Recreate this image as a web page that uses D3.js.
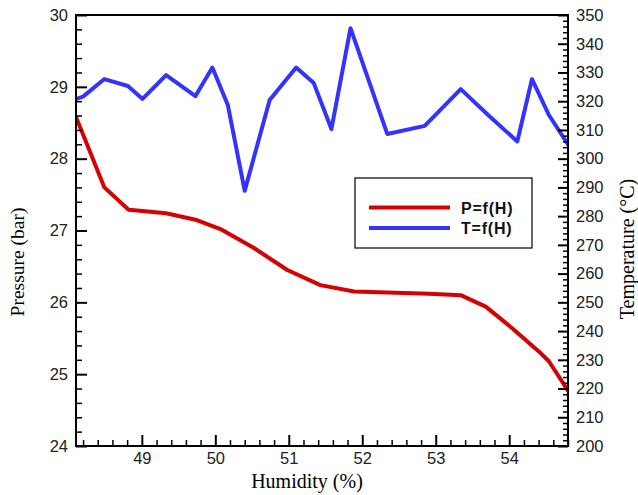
<!DOCTYPE html>
<html>
<head>
<meta charset="utf-8">
<script src="https://cdn.jsdelivr.net/npm/d3@7"></script>
<style>
  body { margin: 0; background: #fff; }
  svg { display: block; }
</style>
</head>
<body>
<svg id="chart" width="638" height="495"></svg>
<script>
// datos
const humP = [48.10, 48.49, 48.82, 49.01, 49.33, 49.73, 50.07, 50.52, 50.98, 51.43, 51.89, 52.91, 53.34, 53.68, 54.04, 54.43, 54.54, 54.82];
const pressure = [28.59, 27.60, 27.29, 27.27, 27.24, 27.15, 27.02, 26.76, 26.45, 26.24, 26.15, 26.12, 26.10, 25.94, 25.64, 25.29, 25.18, 24.74];

const humT = [48.10, 48.20, 48.49, 48.81, 49.01, 49.33, 49.73, 49.96, 50.17, 50.40, 50.74, 51.10, 51.34, 51.58, 51.84, 52.34, 52.85, 53.34, 53.72, 54.11, 54.31, 54.54, 54.82];
const temperature = [320.7, 321.6, 327.7, 325.3, 320.8, 329.1, 321.8, 331.7, 318.7, 288.8, 320.4, 331.7, 326.3, 310.3, 345.4, 308.6, 311.4, 324.2, 315.0, 306.0, 327.7, 315.2, 304.2];

const xTicks = [49, 50, 51, 52, 53, 54];
const pTicks = [24, 25, 26, 27, 28, 29, 30];
const tTicks = [200, 210, 220, 230, 240, 250, 260, 270, 280, 290, 300, 310, 320, 330, 340, 350];
const legendLabels = ["P=f(H)", "T=f(H)"];
const colors = ["#d60000", "#3333ff"];

document.addEventListener("DOMContentLoaded", () => {
    const svg = d3.select("#chart");
    const left = 76, right = 568, top = 15, bottom = 446;

    const x = d3.scaleLinear().domain([48.104, 54.8]).range([left, right]);
    const yP = d3.scaleLinear().domain([24, 30]).range([bottom, top]);
    const yT = d3.scaleLinear().domain([200, 350]).range([bottom, top]);

    const tickFont = "Liberation Sans, Arial, sans-serif";
    const titleFont = "Liberation Serif, Times New Roman, serif";

    // lineas de datos
    const lineP = d3.line().x((d, i) => x(humP[i])).y(d => yP(d));
    const lineT = d3.line().x((d, i) => x(humT[i])).y(d => yT(d));

    svg.append("clipPath").attr("id", "clip")
        .append("rect").attr("x", left).attr("y", top - 3)
        .attr("width", right - left).attr("height", bottom - top + 3);

    const g = svg.append("g").attr("clip-path", "url(#clip)");
    g.append("path").attr("d", lineT(temperature))
        .attr("fill", "none").attr("stroke", colors[1]).attr("stroke-width", 4)
        .attr("stroke-linejoin", "round");
    g.append("path").attr("d", lineP(pressure))
        .attr("fill", "none").attr("stroke", colors[0]).attr("stroke-width", 4)
        .attr("stroke-linejoin", "round");

    // ejes (ticks hacia dentro)
    const minorX = d3.range(48.2, 54.81, 0.2).filter(v => Math.abs(v - Math.round(v)) > 0.01);
    const minorP = d3.range(24.2, 30, 0.2).filter(v => Math.abs(v - Math.round(v)) > 0.01);
    const minorT = d3.range(202, 350, 2).filter(v => v % 10 !== 0);

    const axMin = svg.append("g").attr("transform", `translate(0,${bottom})`)
        .call(d3.axisBottom(x).tickValues(minorX).tickSize(-6).tickFormat(""));
    const axMaj = svg.append("g").attr("transform", `translate(0,${bottom})`)
        .call(d3.axisBottom(x).tickValues(xTicks).tickSize(-11).tickPadding(6).tickFormat(d3.format("d")));

    const ayMin = svg.append("g").attr("transform", `translate(${left},0)`)
        .call(d3.axisLeft(yP).tickValues(minorP).tickSize(-6).tickFormat(""));
    const ayMaj = svg.append("g").attr("transform", `translate(${left},0)`)
        .call(d3.axisLeft(yP).tickValues(pTicks).tickSize(-11).tickPadding(8).tickFormat(d3.format("d")));

    const arMin = svg.append("g").attr("transform", `translate(${right},0)`)
        .call(d3.axisRight(yT).tickValues(minorT).tickSize(-5).tickFormat(""));
    const arMaj = svg.append("g").attr("transform", `translate(${right},0)`)
        .call(d3.axisRight(yT).tickValues(tTicks).tickSize(-10).tickPadding(8).tickFormat(d3.format("d")));

    [axMin, axMaj, ayMin, ayMaj, arMin, arMaj].forEach(a => {
        a.select(".domain").remove();
        a.selectAll("line").attr("stroke", "#000").attr("stroke-width", 1.5);
        a.selectAll("text").attr("font-family", tickFont).attr("font-size", 16.5).attr("fill", "#222");
    });
    [axMaj, ayMaj, arMaj].forEach(a => a.selectAll("line").attr("stroke-width", 2));

    // marco
    svg.append("rect").attr("x", left).attr("y", top)
        .attr("width", right - left).attr("height", bottom - top)
        .attr("fill", "none").attr("stroke", "#000").attr("stroke-width", 2);

    // titulos de ejes
    svg.append("text").attr("x", 307).attr("y", 488)
        .attr("text-anchor", "middle").attr("font-family", titleFont).attr("font-size", 20)
        .text("Humidity (%)");
    svg.append("text").attr("transform", "translate(24,262) rotate(-90)")
        .attr("text-anchor", "middle").attr("font-family", titleFont).attr("font-size", 19.5)
        .text("Pressure (bar)");
    svg.append("text").attr("transform", "translate(634,249) rotate(-90)")
        .attr("text-anchor", "middle").attr("font-family", titleFont).attr("font-size", 20)
        .text("Temperature (°C)");

    // leyenda
    const leg = svg.append("g");
    leg.append("rect").attr("x", 355).attr("y", 178)
        .attr("width", 177).attr("height", 70)
        .attr("fill", "#fff").attr("stroke", "#000").attr("stroke-width", 1.2);
    legendLabels.forEach((lab, i) => {
        const yy = 207.5 + i * 20.5;
        leg.append("line").attr("x1", 369).attr("x2", 450).attr("y1", yy).attr("y2", yy)
            .attr("stroke", colors[i]).attr("stroke-width", 4);
        leg.append("text").attr("x", 461).attr("y", yy + 6)
            .attr("font-family", tickFont).attr("font-size", 16).attr("font-weight", "bold")
            .attr("letter-spacing", 0.8).attr("fill", "#111").text(lab);
    });
});
</script>
</body>
</html>
